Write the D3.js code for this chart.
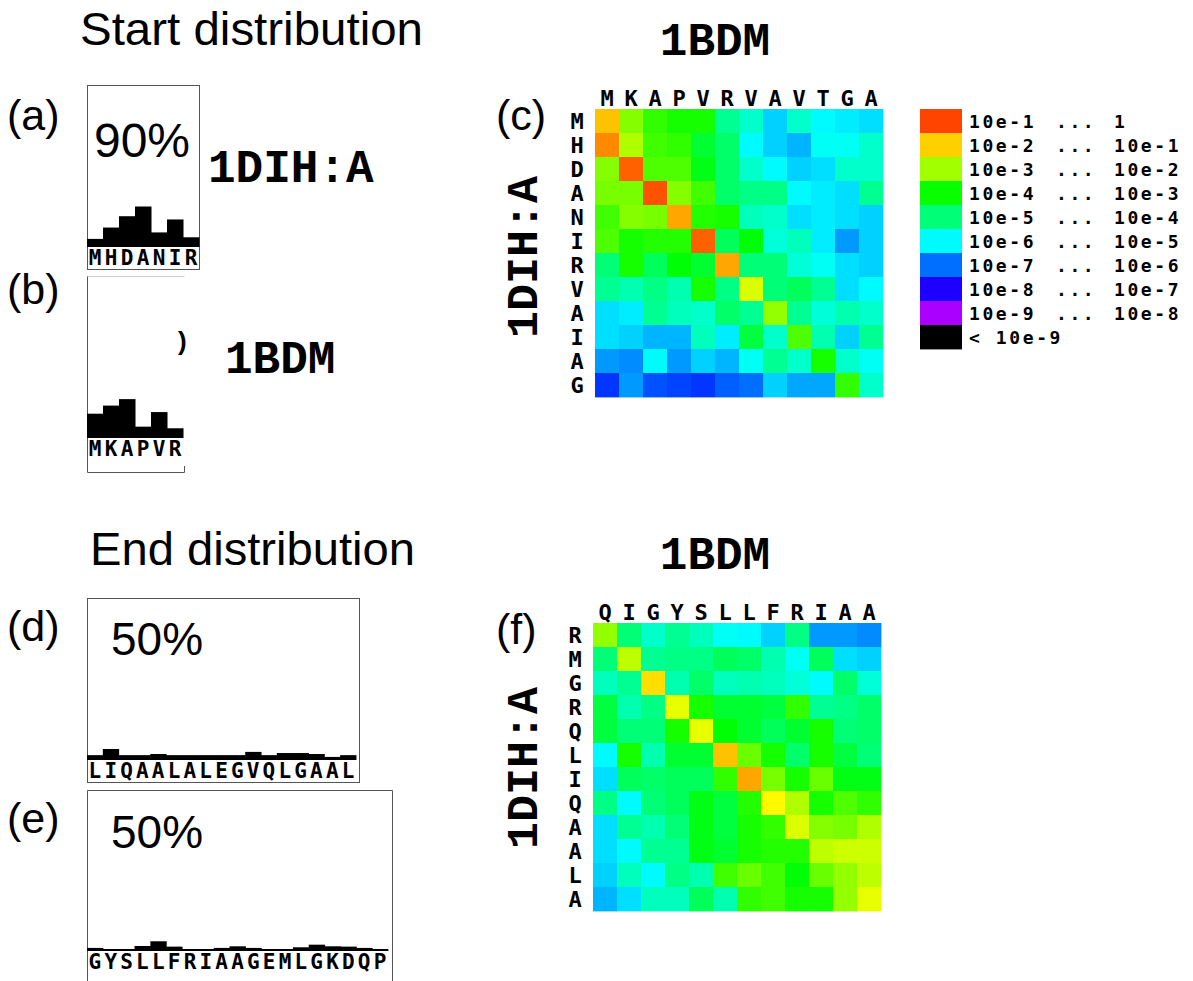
<!DOCTYPE html>
<html>
<head>
<meta charset="utf-8">
<script src="https://cdn.jsdelivr.net/npm/d3@7"></script>
<style>
  body { margin: 0; background: #fff; }
  .sans { font-family: Arial, "Liberation Sans", sans-serif; }
  .pdb { font-family: "Courier New", "Liberation Mono", monospace; font-weight: bold; }
  .pix { font-family: "DejaVu Sans Mono", monospace; font-weight: bold; }
</style>
</head>
<body>
<svg id="fig" width="1193" height="981"></svg>
<script>
// --- sequences and start / end distributions (fraction of runs)
const seqA = ["M", "H", "D", "A", "N", "I", "R"];
const distA = [0.05, 0.12, 0.19, 0.25, 0.09, 0.17, 0.06];

const seqB = ["M", "K", "A", "P", "V", "R"];
const distB = [0.15, 0.20, 0.24, 0.07, 0.16, 0.06];

const seqD = ["L", "I", "Q", "A", "A", "L", "A", "L", "E", "G", "V", "Q", "L", "G", "A", "A", "L"];
const distD = [0.03, 0.068, 0.03, 0.03, 0.037, 0.03, 0.03, 0.03, 0.03, 0.03, 0.05, 0.03, 0.043, 0.043, 0.037, 0.019, 0.03];

const seqE = ["G", "Y", "S", "L", "L", "F", "R", "I", "A", "A", "G", "E", "M", "L", "G", "K", "D", "Q", "P"];
const distE = [0.019, 0.01, 0.01, 0.031, 0.06, 0.027, 0.01, 0.01, 0.019, 0.029, 0.019, 0.01, 0.01, 0.023, 0.039, 0.029, 0.027, 0.019, 0.01];

// --- pair probability matrices, log10 values
const rowsC = ["M", "H", "D", "A", "N", "I", "R", "V", "A", "I", "A", "G"];
const colsC = ["M", "K", "A", "P", "V", "R", "V", "A", "V", "T", "G", "A"];
const logC = [
  [-1.4, -2.7, -3.3, -3.5, -3.5, -4.7, -5.1, -5.8, -5.1, -5.5, -5.6, -5.7],
  [-1.0, -2.4, -3.2, -3.3, -4.0, -4.4, -5.5, -5.8, -6.0, -5.4, -5.4, -5.1],
  [-2.7, -0.7, -3.1, -3.1, -3.8, -4.4, -5.1, -5.5, -5.8, -5.7, -5.1, -5.1],
  [-2.8, -2.8, -0.6, -2.7, -3.2, -4.4, -4.6, -4.6, -5.5, -5.6, -5.7, -4.7],
  [-3.2, -2.7, -2.8, -1.2, -3.4, -3.5, -5.0, -5.1, -5.7, -5.6, -5.7, -5.8],
  [-3.1, -3.5, -3.4, -3.4, -0.7, -4.3, -3.7, -5.2, -5.0, -5.6, -6.2, -5.8],
  [-4.5, -3.5, -4.3, -3.7, -4.0, -1.2, -4.5, -4.5, -5.2, -5.4, -5.7, -5.8],
  [-4.7, -4.9, -4.6, -4.9, -3.5, -4.6, -2.1, -4.5, -4.3, -4.7, -5.7, -5.5],
  [-5.7, -5.6, -4.7, -5.0, -5.1, -4.4, -4.7, -2.6, -4.7, -5.2, -4.9, -5.1],
  [-5.7, -5.8, -6.0, -6.0, -5.0, -5.6, -4.1, -5.1, -3.1, -4.9, -5.8, -4.7],
  [-6.2, -6.3, -5.5, -6.2, -5.8, -6.0, -5.4, -4.7, -5.1, -3.5, -5.1, -5.4],
  [-6.9, -6.2, -6.7, -6.8, -6.9, -6.6, -6.5, -5.8, -6.1, -6.1, -3.3, -5.1]
];

const rowsF = ["R", "M", "G", "R", "Q", "L", "I", "Q", "A", "A", "L", "A"];
const colsF = ["Q", "I", "G", "Y", "S", "L", "L", "F", "R", "I", "A", "A"];
const logF = [
  [-2.6, -4.5, -5.1, -4.7, -5.0, -5.4, -5.5, -5.8, -4.6, -6.2, -6.2, -6.3],
  [-4.5, -2.3, -4.7, -4.6, -4.6, -4.3, -4.4, -4.9, -5.4, -4.3, -5.7, -5.8],
  [-5.0, -4.7, -1.6, -4.9, -4.4, -5.0, -4.9, -5.0, -5.2, -5.5, -4.4, -5.2],
  [-4.1, -4.9, -4.6, -2.0, -3.5, -4.0, -4.0, -4.1, -3.3, -4.7, -4.6, -4.4],
  [-4.1, -4.5, -4.5, -3.5, -2.0, -3.7, -4.0, -4.3, -4.0, -3.5, -4.5, -4.4],
  [-5.5, -3.5, -4.9, -4.0, -4.0, -1.4, -2.9, -3.5, -4.4, -3.5, -4.1, -4.5],
  [-5.7, -4.3, -4.4, -4.3, -4.3, -3.3, -1.2, -2.8, -3.5, -2.9, -3.8, -3.8],
  [-4.6, -5.5, -4.5, -4.3, -3.8, -4.1, -3.4, -1.8, -2.4, -3.5, -3.1, -3.3],
  [-5.7, -4.7, -4.9, -4.5, -3.8, -4.1, -3.5, -3.3, -2.1, -2.7, -2.8, -2.4],
  [-5.7, -5.5, -4.7, -4.7, -3.8, -4.0, -3.5, -3.4, -3.4, -2.3, -2.2, -2.2],
  [-5.8, -5.0, -5.5, -4.6, -4.9, -3.2, -2.9, -3.2, -3.7, -2.9, -2.6, -2.3],
  [-6.0, -5.7, -5.0, -5.0, -4.3, -4.9, -3.3, -3.2, -3.5, -3.5, -2.6, -2.0]
];

// --- legend bins
const legendFrom = ["10e-1", "10e-2", "10e-3", "10e-4", "10e-5", "10e-6", "10e-7", "10e-8", "10e-9", "< 10e-9"];
const legendTo = ["1", "10e-1", "10e-2", "10e-3", "10e-4", "10e-5", "10e-6", "10e-7", "10e-8", ""];
const legendMid = [-0.5, -1.5, -2.5, -3.6, -4.5, -5.5, -6.5, -7.5, -8.5, null];

const svg = d3.select("#fig");

// log10 probability -> rainbow hue
const hue = d3.scaleLinear().domain([-0.5, -8.5]).range([16, 280]);
const colour = v => v == null ? "#000" : d3.hsl(hue(v), 1, 0.5).toString();

function text(x, y, s, cls, size, anchor) {
  return svg.append("text")
    .attr("x", x).attr("y", y)
    .attr("class", cls)
    .attr("font-size", size)
    .attr("text-anchor", anchor || "start")
    .text(s);
}

// --- titles and panel labels
text(80, 45, "Start distribution", "sans", 46).attr("textLength", 343).attr("lengthAdjust", "spacingAndGlyphs");
text(90, 565, "End distribution", "sans", 46).attr("textLength", 325).attr("lengthAdjust", "spacingAndGlyphs");
[["(a)", 7, 130], ["(b)", 7, 304], ["(c)", 496, 130], ["(d)", 7, 641], ["(e)", 7, 833], ["(f)", 496, 644]]
  .forEach(([s, x, y]) => text(x, y, s, "sans", 43));

// --- histogram panels
function histogram(seq, dist, x0, binW, base) {
  const x = d3.scaleBand().domain(d3.range(seq.length)).range([x0, x0 + binW * seq.length]).padding(0);
  const y = d3.scaleLinear().domain([0, 1]).range([base, base - 162]);
  const g = svg.append("g");
  g.selectAll("rect")
    .data(dist)
    .enter()
    .append("rect")
    .attr("x", (d, i) => x(i))
    .attr("width", x.bandwidth() + 0.5)
    .attr("y", d => y(d))
    .attr("height", d => base - y(d))
    .attr("fill", "#000");
  g.append("rect")
    .attr("x", x0).attr("width", binW * seq.length)
    .attr("y", base - 2).attr("height", 2)
    .attr("fill", "#000");
  g.selectAll("text")
    .data(seq)
    .enter()
    .append("text")
    .attr("class", "pix")
    .attr("font-size", 21)
    .attr("text-anchor", "middle")
    .attr("x", (d, i) => x(i) + x.bandwidth() / 2)
    .attr("y", base + 18)
    .text(d => d);
  return g;
}

const box = (x, y, w, h) => svg.append("rect")
  .attr("x", x + 0.5).attr("y", y + 0.5).attr("width", w).attr("height", h)
  .attr("fill", "none").attr("stroke", "#555").attr("stroke-width", 1);

// (a)
box(87, 85, 112, 184);
histogram(seqA, distA, 87, 16, 247);
text(142, 157, "90%", "sans", 48, "middle");
text(208, 182, "1DIH:A", "pdb", 46);

// (b) – box drawn partly, as in the original
svg.append("path")
  .attr("d", "M87.5,276.5 H184.5")
  .attr("stroke", "#ccc").attr("fill", "none");
svg.append("path")
  .attr("d", "M87.5,276.5 V472.5 H184.5 V466")
  .attr("stroke", "#555").attr("fill", "none");
histogram(seqB, distB, 87, 16, 438);
text(178, 350, ")", "sans", 26).attr("font-weight", "bold");
text(225, 373, "1BDM", "pdb", 46);

// (d)
box(87, 598, 272, 184);
histogram(seqD, distD, 87, 15.82, 760);
text(111, 655, "50%", "sans", 46);

// (e)
svg.append("path")
  .attr("d", "M87.5,981 V790.5 H392.5 V981")
  .attr("stroke", "#555").attr("fill", "none");
histogram(seqE, distE, 87, 15.84, 951);
text(111, 848, "50%", "sans", 46);

// --- heatmaps
function heatmap(rows, cols, vals, x0, y0) {
  const x = d3.scaleBand().domain(d3.range(cols.length)).range([x0, x0 + 24 * cols.length]);
  const y = d3.scaleBand().domain(d3.range(rows.length)).range([y0, y0 + 24 * rows.length]);
  const g = svg.append("g");
  const cells = vals.flatMap((r, i) => r.map((v, j) => ({ i, j, v })));
  g.selectAll("rect")
    .data(cells)
    .enter()
    .append("rect")
    .attr("x", d => x(d.j))
    .attr("y", d => y(d.i))
    .attr("width", x.bandwidth() + 0.4)
    .attr("height", y.bandwidth() + 0.4)
    .attr("fill", d => colour(d.v));
  g.selectAll(".col")
    .data(cols)
    .enter()
    .append("text")
    .attr("class", "pix")
    .attr("font-size", 22)
    .attr("text-anchor", "middle")
    .attr("x", (d, i) => x(i) + x.bandwidth() / 2)
    .attr("y", y0 - 3)
    .text(d => d);
  g.selectAll(".row")
    .data(rows)
    .enter()
    .append("text")
    .attr("class", "pix")
    .attr("font-size", 22)
    .attr("text-anchor", "middle")
    .attr("x", x0 - 18)
    .attr("y", (d, i) => y(i) + y.bandwidth() / 2 + 8)
    .text(d => d);
}

heatmap(rowsC, colsC, logC, 595, 109);
heatmap(rowsF, colsF, logF, 593, 623);

text(715, 55, "1BDM", "pdb", 46, "middle");
text(715, 569, "1BDM", "pdb", 46, "middle");
text(0, 0, "1DIH:A", "pdb", 45, "middle").attr("transform", "translate(537,257) rotate(-90)");
text(0, 0, "1DIH:A", "pdb", 45, "middle").attr("transform", "translate(537,768) rotate(-90)");

// --- legend
const lg = svg.append("g");
const ly = d3.scaleBand().domain(d3.range(legendFrom.length)).range([109, 109 + 24 * legendFrom.length]);
lg.selectAll("rect")
  .data(legendMid)
  .enter()
  .append("rect")
  .attr("x", 920).attr("width", 42)
  .attr("y", (d, i) => ly(i))
  .attr("height", ly.bandwidth() + 0.4)
  .attr("fill", d => colour(d));
legendFrom.forEach((s, i) => {
  const yy = ly(i) + 19;
  lg.append("text").attr("class", "pix").attr("font-size", 18).attr("letter-spacing", 2.6)
    .attr("x", 969).attr("y", yy).text(s);
  if (legendTo[i]) {
    lg.append("text").attr("class", "pix").attr("font-size", 18).attr("letter-spacing", 2.6)
      .attr("x", 1056).attr("y", yy).text("...");
    lg.append("text").attr("class", "pix").attr("font-size", 18).attr("letter-spacing", 2.6)
      .attr("x", 1114).attr("y", yy).text(legendTo[i]);
  }
});
</script>
</body>
</html>
